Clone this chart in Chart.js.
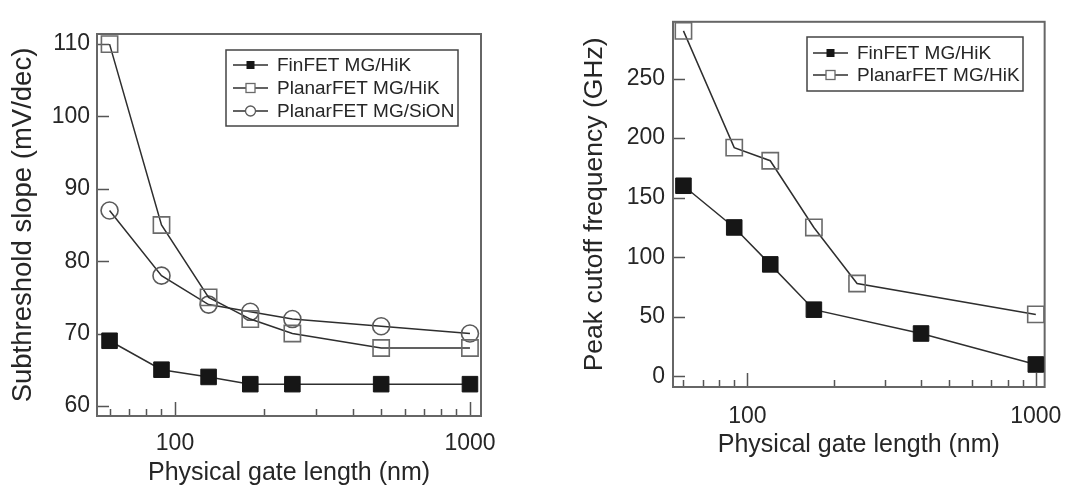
<!DOCTYPE html>
<html>
<head>
<meta charset="utf-8">
<script src="https://cdn.jsdelivr.net/npm/chart.js@4/dist/chart.umd.min.js"></script>
<style>
  html, body { margin: 0; padding: 0; background: #fff; }
  #wrap { position: relative; width: 1078px; height: 491px; }
  canvas { position: absolute; top: 0; }
  #c1 { left: 0; }
  #c2 { left: 540px; }
</style>
</head>
<body>
<div id="wrap">
  <canvas id="c1" width="540" height="491"></canvas>
  <canvas id="c2" width="538" height="491"></canvas>
</div>
<script>
// left panel: subthreshold slope
var gateSS = [60, 90, 130, 180, 250, 500, 1000];
var finSS = [69, 65, 64, 63, 63, 63, 63];
var planarHiKSS = [110, 85, 75, 72, 70, 68, 68];
var planarSiONSS = [87, 78, 74, 73, 72, 71, 70];
var ssTicks = [60, 70, 80, 90, 100, 110];

// right panel: peak cutoff frequency
var gateFinFt = [60, 90, 120, 170, 400, 1000];
var finFt = [160, 125, 94, 56, 36, 10];
var gatePlanarFt = [60, 90, 120, 170, 240, 1000];
var planarFt = [290, 192, 181, 125, 78, 52];
var ftTicks = [0, 50, 100, 150, 200, 250];

var xLabels = [100, 1000];
var xMinor = [60, 70, 80, 90, 200, 300, 400, 500, 600, 700, 800, 900];

Chart.defaults.font.family = '"Liberation Sans", Arial, sans-serif';
Chart.defaults.color = '#262626';

function pts(xs, ys) {
  return xs.map(function(x, i) { return { x: x, y: ys[i] }; });
}

var fin = { pointStyle: 'rect', pointRadius: 11, pointBackgroundColor: '#161616', pointBorderColor: '#161616', pointBorderWidth: 1 };
var openSq = { pointStyle: 'rect', pointRadius: 11.5, pointBackgroundColor: 'rgba(0,0,0,0)', pointBorderColor: '#6a6a6a', pointBorderWidth: 1.6 };
var openCirc = { pointStyle: 'circle', pointRadius: 8.5, pointBackgroundColor: 'rgba(0,0,0,0)', pointBorderColor: '#5a5a5a', pointBorderWidth: 1.6 };

function series(label, data, marker) {
  return Object.assign({
    label: label,
    data: data,
    borderColor: '#2e2e2e',
    borderWidth: 1.5,
    tension: 0,
    fill: false,
    clip: false
  }, marker);
}

// frame, inward ticks and the little legend box
var frameTicks = {
  id: 'frameTicks',
  beforeDatasetsDraw: function(chart, args, opts) {
    var ctx = chart.ctx, a = chart.chartArea, x = chart.scales.x, y = chart.scales.y;
    ctx.save();
    ctx.strokeStyle = '#555';
    ctx.lineWidth = 1.5;
    ctx.beginPath();
    opts.yTicks.forEach(function(v) {
      var py = Math.round(y.getPixelForValue(v)) + 0.5;
      ctx.moveTo(a.left, py); ctx.lineTo(a.left + 12, py);
    });
    xLabels.forEach(function(v) {
      var px = Math.round(x.getPixelForValue(v)) + 0.5;
      ctx.moveTo(px, a.bottom); ctx.lineTo(px, a.bottom - 14);
    });
    xMinor.forEach(function(v) {
      var px = Math.round(x.getPixelForValue(v)) + 0.5;
      ctx.moveTo(px, a.bottom); ctx.lineTo(px, a.bottom - 7);
    });
    ctx.stroke();
    ctx.strokeStyle = '#666';
    ctx.lineWidth = 2;
    ctx.strokeRect(a.left, a.top, a.right - a.left, a.bottom - a.top);
    ctx.restore();
  },
  afterDraw: function(chart, args, opts) {
    var ctx = chart.ctx, L = opts.legend;
    ctx.save();
    ctx.strokeStyle = '#444';
    ctx.lineWidth = 1.5;
    ctx.strokeRect(L.left, L.top, L.right - L.left, L.bottom - L.top);
    ctx.font = '19px "Liberation Sans", Arial, sans-serif';
    ctx.textBaseline = 'middle';
    ctx.fillStyle = '#262626';
    chart.data.datasets.forEach(function(ds, i) {
      var cy = L.row + i * L.gap;
      var mx = (L.line0 + L.line1) / 2;
      ctx.strokeStyle = '#2e2e2e';
      ctx.lineWidth = 1.5;
      ctx.beginPath(); ctx.moveTo(L.line0, cy); ctx.lineTo(L.line1, cy); ctx.stroke();
      ctx.lineWidth = 1.3;
      if (ds.pointStyle === 'circle') {
        ctx.beginPath(); ctx.arc(mx, cy, 5, 0, Math.PI * 2);
        ctx.fillStyle = '#fff'; ctx.fill();
        ctx.strokeStyle = ds.pointBorderColor; ctx.stroke();
      } else if (ds.pointBackgroundColor === '#161616') {
        ctx.fillStyle = '#161616'; ctx.fillRect(mx - 4, cy - 4, 8, 8);
      } else {
        ctx.fillStyle = '#fff'; ctx.fillRect(mx - 4.5, cy - 4.5, 9, 9);
        ctx.strokeStyle = ds.pointBorderColor; ctx.strokeRect(mx - 4.5, cy - 4.5, 9, 9);
      }
      ctx.fillStyle = '#262626';
      ctx.fillText(ds.label, L.text, cy + 1);
    });
    ctx.restore();
  }
};

function xAxis(min, max, tickPad, titlePad, tickSize) {
  return {
    type: 'logarithmic', min: min, max: max,
    grid: { display: false, drawTicks: false }, border: { display: false },
    afterBuildTicks: function(s) { s.ticks = xLabels.map(function(v) { return { value: v }; }); },
    afterFit: function(s) { s.height = 75; },
    ticks: { font: { size: tickSize }, padding: tickPad, maxRotation: 0, autoSkip: false,
      callback: function(v) { return String(v); } },
    title: { display: true, text: 'Physical gate length (nm)', font: { size: 25 }, padding: { top: 0, bottom: titlePad } }
  };
}

function yAxis(min, max, ticks, width, title, titleSize, titlePad, tickPad, tickSize) {
  return {
    min: min, max: max,
    grid: { display: false, drawTicks: false }, border: { display: false },
    afterBuildTicks: function(s) { s.ticks = ticks.map(function(v) { return { value: v }; }); },
    afterFit: function(s) { s.width = width; },
    ticks: { font: { size: tickSize }, padding: tickPad },
    title: { display: true, text: title, font: { size: titleSize }, padding: { top: titlePad, bottom: 0 } }
  };
}

new Chart(document.getElementById('c1'), {
  type: 'line',
  data: {
    datasets: [
      series('FinFET MG/HiK', pts(gateSS, finSS), fin),
      series('PlanarFET MG/HiK', pts(gateSS, planarHiKSS), openSq),
      series('PlanarFET MG/SiON', pts(gateSS, planarSiONSS), openCirc)
    ]
  },
  options: {
    responsive: false, animation: false, events: [],
    layout: { padding: { left: 0, top: 34, right: 59, bottom: 0 } },
    scales: {
      x: xAxis(54.4, 1090, 14, 3, 23),
      y: yAxis(58.6, 111.4, ssTicks, 97, 'Subthreshold slope (mV/dec)', 27.5, 7, 7, 23)
    },
    plugins: {
      legend: { display: false }, tooltip: { enabled: false },
      frameTicks: { yTicks: ssTicks,
        legend: { left: 226, top: 50, right: 458, bottom: 126, row: 65, gap: 23, line0: 233, line1: 268, text: 277 } }
    }
  },
  plugins: [frameTicks]
});

new Chart(document.getElementById('c2'), {
  type: 'line',
  data: {
    datasets: [
      series('FinFET MG/HiK', pts(gateFinFt, finFt), fin),
      series('PlanarFET MG/HiK', pts(gatePlanarFt, planarFt), openSq)
    ]
  },
  options: {
    responsive: false, animation: false, events: [],
    layout: { padding: { left: 30, top: 8, right: 25, bottom: 29 } },
    scales: {
      x: xAxis(55.2, 1073, 16, 2, 23),
      y: yAxis(-8.9, 297.6, ftTicks, 103, 'Peak cutoff frequency (GHz)', 26.5, 9, 8, 23)
    },
    plugins: {
      legend: { display: false }, tooltip: { enabled: false },
      frameTicks: { yTicks: ftTicks,
        legend: { left: 267, top: 37, right: 483, bottom: 91, row: 53, gap: 22, line0: 273, line1: 308, text: 317 } }
    }
  },
  plugins: [frameTicks]
});
</script>
</body>
</html>
